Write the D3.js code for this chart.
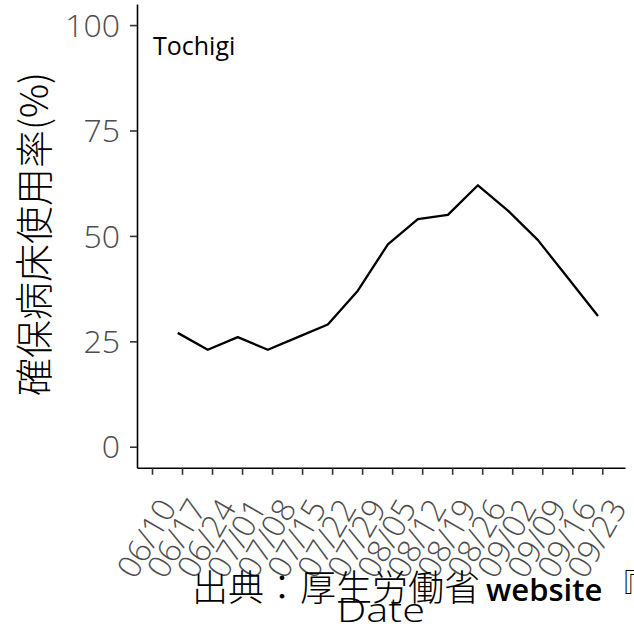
<!DOCTYPE html>
<html><head><meta charset="utf-8">
<script src="https://cdn.jsdelivr.net/npm/d3@7"></script>
<style>body{margin:0;background:#fff;overflow:hidden}</style>
</head><body>
<svg id="c" width="634" height="627"></svg>
<script>
// ---- data ----
const year = 2021;
const dataDates = ["06/16","06/23","06/30","07/07","07/14","07/21","07/28","08/04","08/11","08/18","08/25","09/01","09/08","09/15","09/22"];
const values = [27, 23, 26, 23, 26, 29, 37, 48, 54, 55, 62, 56, 49, 40, 31];
const tickLabels = ["06/10","06/17","06/24","07/01","07/08","07/15","07/22","07/29","08/05","08/12","08/19","08/26","09/02","09/09","09/16","09/23"];
const yTicks = [0, 25, 50, 75, 100];
const regionLabel = "Tochigi";
const yTitle = "確保病床使用率(%)";
const xTitle = "Date";
const captionJa = "出典：厚生労働省";
const captionEn = "website";
const captionTail = "『";

// ---- setup ----
const parse = s => { const [m, d] = s.split("/").map(Number); return new Date(year, m - 1, d); };
const DAY = 864e5;
const tickDates = tickLabels.map(parse);
const pts = dataDates.map((d, i) => ({ date: parse(d), v: values[i] }));

const svg = d3.select("#c");
const axisX0 = 137, axisX1 = 625, axisYBottom = 467.8, axisYTop = 4;

const x = d3.scaleTime()
  .domain([new Date(+tickDates[0] - 3.5 * DAY), new Date(+tickDates[tickDates.length - 1] + 5.3 * DAY)])
  .range([axisX0, axisX1]);
const y = d3.scaleLinear().domain([-5, 105]).range([axisYBottom, axisYTop]);

const tickFont = "'Open Sans', 'Noto Sans', sans-serif";
const cjkFont = "'Noto Sans CJK JP', sans-serif";

// y axis
const gy = svg.append("g").attr("transform", `translate(${axisX0},0)`)
  .call(d3.axisLeft(y).tickValues(yTicks).tickSize(7).tickSizeOuter(0).tickPadding(10));
gy.select(".domain").attr("stroke", "#000").attr("stroke-width", 1.6);
gy.selectAll(".tick line").attr("stroke", "#333").attr("stroke-width", 1.6);
gy.selectAll(".tick text").attr("font-family", tickFont).attr("font-size", 32)
  .attr("font-weight", 300).attr("fill", "#4d4d4d").attr("dy", "0.35em");

// x axis
const gx = svg.append("g").attr("transform", `translate(0,${axisYBottom})`)
  .call(d3.axisBottom(x).tickValues(tickDates).tickSize(7).tickSizeOuter(0)
    .tickFormat((d, i) => tickLabels[i]));
gx.select(".domain").attr("stroke", "#000").attr("stroke-width", 1.6);
gx.selectAll(".tick line").attr("stroke", "#333").attr("stroke-width", 1.6);
gx.selectAll(".tick text")
  .attr("font-family", tickFont).attr("font-size", 32).attr("font-weight", 300)
  .attr("fill", "#4d4d4d")
  .attr("y", 0).attr("dy", "0.75em")
  .attr("text-anchor", "end")
  .attr("transform", "translate(4,28) rotate(-60)");

// line
svg.append("path").datum(pts)
  .attr("fill", "none").attr("stroke", "#000").attr("stroke-width", 2.3)
  .attr("stroke-linejoin", "round")
  .attr("d", d3.line().x(d => x(d.date)).y(d => y(d.v)));

// region label
svg.append("text").attr("x", axisX0 + 16).attr("y", 55)
  .attr("font-family", tickFont).attr("font-size", 25).attr("fill", "#000")
  .text(regionLabel);

// y title
svg.append("text").attr("transform", "translate(31,234) rotate(-90)")
  .attr("text-anchor", "middle").attr("dominant-baseline", "central")
  .attr("font-family", cjkFont).attr("font-weight", 300).attr("font-size", 38).attr("fill", "#000")
  .text(yTitle);

// caption
const cap = svg.append("text").attr("x", 192).attr("y", 601).attr("fill", "#000");
cap.append("tspan").attr("font-family", cjkFont).attr("font-weight", 300).attr("font-size", 36).text(captionJa);
cap.append("tspan").attr("dx", 6).attr("font-family", "'Open Sans', sans-serif").attr("font-weight", 600).attr("font-size", 31).text(captionEn);
cap.append("tspan").attr("x", 604).attr("font-family", cjkFont).attr("font-weight", 300).attr("font-size", 36).text(captionTail);

// x title
svg.append("text").attr("x", 381).attr("y", 622).attr("text-anchor", "middle")
  .attr("font-family", tickFont).attr("font-weight", 300).attr("font-size", 33)
  .attr("textLength", 88).attr("lengthAdjust", "spacingAndGlyphs").attr("fill", "#000")
  .text(xTitle);
</script>
</body></html>
